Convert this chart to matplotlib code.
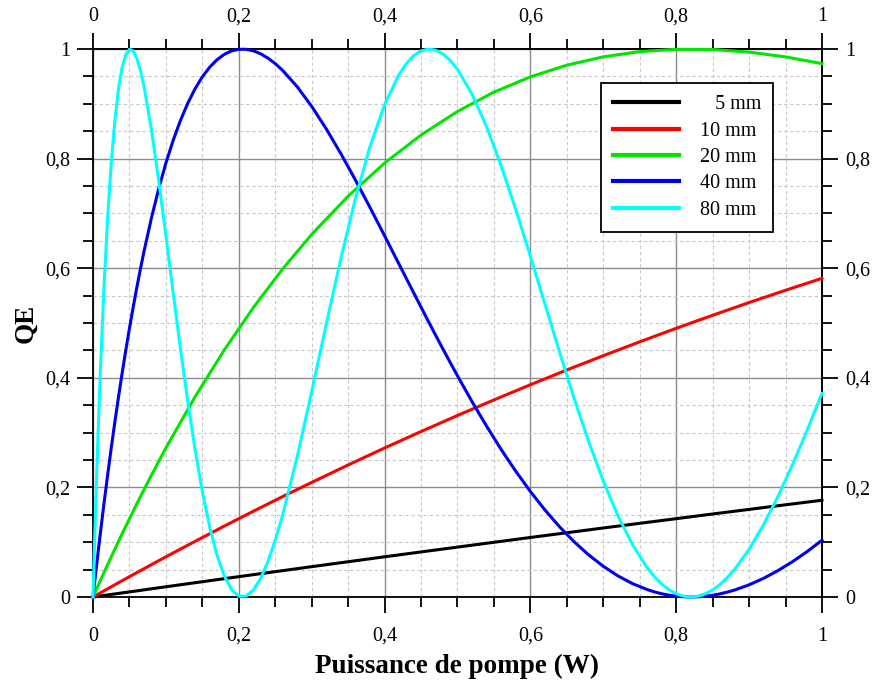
import matplotlib
matplotlib.use("Agg")
import matplotlib.pyplot as plt
from matplotlib.ticker import FixedLocator, FuncFormatter

plt.rcParams['font.family'] = ['Liberation Serif', 'DejaVu Serif']

# pump power (W) -- fine grid for the fast oscillating curves
p_fine = [0, 0.0025, 0.005, 0.0075, 0.01, 0.015, 0.02, 0.025, 0.03, 0.035,
          0.04, 0.045, 0.05, 0.055, 0.06, 0.065, 0.07, 0.08, 0.09, 0.10,
          0.11, 0.12, 0.13, 0.14, 0.15, 0.16, 0.17, 0.18, 0.19, 0.20, 0.21,
          0.22, 0.23, 0.24, 0.25, 0.26, 0.28, 0.30, 0.32, 0.34, 0.36, 0.38,
          0.40, 0.42, 0.43, 0.44, 0.45, 0.46, 0.47, 0.48, 0.49, 0.50, 0.52,
          0.54, 0.56, 0.58, 0.60, 0.62, 0.64, 0.66, 0.68, 0.70, 0.72, 0.74,
          0.76, 0.77, 0.78, 0.79, 0.80, 0.81, 0.82, 0.83, 0.84, 0.85, 0.86,
          0.87, 0.88, 0.90, 0.92, 0.94, 0.96, 0.98, 1.00]

qe_80 = [0, 0.1156, 0.2220, 0.3197, 0.4088, 0.5645, 0.6909, 0.7919, 0.8699,
         0.9275, 0.9669, 0.9902, 0.9996, 0.9968, 0.9835, 0.9612, 0.9314,
         0.8543, 0.7611, 0.6592, 0.5547, 0.4527, 0.3564, 0.2692, 0.1925,
         0.1282, 0.0768, 0.0386, 0.0136, 0.0015, 0.0015, 0.0127, 0.0342,
         0.0649, 0.1036, 0.1491, 0.2555, 0.3748, 0.4982, 0.6178, 0.7274,
         0.8223, 0.8987, 0.9541, 0.9738, 0.9880, 0.9966, 1.0000, 0.9980,
         0.9910, 0.9793, 0.9629, 0.9176, 0.8580, 0.7868, 0.7071, 0.6219,
         0.5344, 0.4470, 0.3626, 0.2836, 0.2116, 0.1485, 0.0957, 0.0539,
         0.0374, 0.0239, 0.0134, 0.0059, 0.0015, 0.0000, 0.0015, 0.0058,
         0.0129, 0.0227, 0.0352, 0.0501, 0.0870, 0.1321, 0.1845, 0.2428,
         0.3055, 0.3715]

qe_40 = [0, 0.0298, 0.0590, 0.0876, 0.1156, 0.1700, 0.2220, 0.2719, 0.3197,
         0.3653, 0.4090, 0.4506, 0.4904, 0.5282, 0.5642, 0.5985, 0.6310,
         0.6909, 0.7444, 0.7919, 0.8336, 0.8699, 0.9011, 0.9275, 0.9493,
         0.9669, 0.9804, 0.9903, 0.9966, 0.9996, 0.9996, 0.9968, 0.9914,
         0.9835, 0.9734, 0.9612, 0.9314, 0.8954, 0.8543, 0.8091, 0.7610,
         0.7108, 0.6592, 0.6070, 0.5809, 0.5549, 0.5290, 0.5032, 0.4778,
         0.4527, 0.4280, 0.4037, 0.3565, 0.3116, 0.2691, 0.2294, 0.1926,
         0.1588, 0.1282, 0.1009, 0.0768, 0.0561, 0.0386, 0.0245, 0.0137,
         0.0094, 0.0060, 0.0034, 0.0015, 0.0004, 0.0000, 0.0004, 0.0014,
         0.0032, 0.0057, 0.0089, 0.0127, 0.0222, 0.0342, 0.0485, 0.0649,
         0.0833, 0.1036]

# coarser grid for the slow curves
p_coarse = [0, 0.01, 0.02, 0.04, 0.06, 0.08, 0.10, 0.14, 0.18, 0.22, 0.26,
            0.30, 0.35, 0.40, 0.45, 0.50, 0.55, 0.60, 0.65, 0.70, 0.75, 0.80,
            0.85, 0.90, 0.95, 1.00]

qe_20 = [0, 0.0298, 0.0590, 0.1156, 0.1699, 0.2220, 0.2720, 0.3654, 0.4507,
         0.5282, 0.5985, 0.6618, 0.7316, 0.7919, 0.8431, 0.8861, 0.9214,
         0.9493, 0.9706, 0.9858, 0.9953, 0.9996, 0.9992, 0.9944, 0.9857,
         0.9734]

qe_10 = [0, 0.0075, 0.0150, 0.0298, 0.0445, 0.0590, 0.0734, 0.1016, 0.1294,
         0.1566, 0.1832, 0.2091, 0.2410, 0.2720, 0.3020, 0.3313, 0.3597,
         0.3874, 0.4144, 0.4404, 0.4657, 0.4904, 0.5142, 0.5374, 0.5598,
         0.5816]

qe_5 = [0, 0.0019, 0.0038, 0.0075, 0.0112, 0.0150, 0.0187, 0.0261, 0.0335,
        0.0408, 0.0481, 0.0554, 0.0644, 0.0734, 0.0823, 0.0911, 0.0999,
        0.1087, 0.1173, 0.1260, 0.1345, 0.1430, 0.1515, 0.1599, 0.1683,
        0.1766]

labels = ['\u2007 5 mm', '10 mm', '20 mm', '40 mm', '80 mm']
colors = ['#000000', '#ff0000', '#00e600', '#0000f0', '#00ffff']

major_ticks = [0, 0.2, 0.4, 0.6, 0.8, 1.0]
minor_ticks = [0.05, 0.1, 0.15, 0.25, 0.3, 0.35, 0.45, 0.5, 0.55,
               0.65, 0.7, 0.75, 0.85, 0.9, 0.95]

fig = plt.figure(figsize=(8.75, 6.91), dpi=100)
ax = fig.add_axes([0.1063, 0.136, 0.8331, 0.793])

series = [(p_coarse, qe_5), (p_coarse, qe_10), (p_coarse, qe_20),
          (p_fine, qe_40), (p_fine, qe_80)]
for (x, y), lab, c in zip(series, labels, colors):
    ax.plot(x, y, color=c, lw=2.2, label=lab, clip_on=False, zorder=3)

ax.set_xlim(0, 1)
ax.set_ylim(0, 1)

fmt = FuncFormatter(lambda v, p: ('%g' % round(v, 3)).replace('.', ','))


def setup_axis(axis):
    axis.set_major_locator(FixedLocator(major_ticks))
    axis.set_minor_locator(FixedLocator(minor_ticks))
    axis.set_major_formatter(fmt)
    axis.offsetText.set_visible(False)


setup_axis(ax.xaxis)
setup_axis(ax.yaxis)

ax.set_axisbelow(True)
ax.grid(which='major', color='#8c8c8c', lw=1.0)
ax.grid(which='minor', color='#c8c8c8', lw=0.8, ls=(0, (3, 2.5)))

for s in ax.spines.values():
    s.set_linewidth(1.3)

ax.tick_params(which='major', direction='out', length=11.5, width=1.3,
               labelsize=14.5, pad=5)
ax.tick_params(which='minor', direction='out', length=7.2, width=1.3)
ax.tick_params(axis='x', which='major', pad=10)

# mirrored axes on top and right
secx = ax.secondary_xaxis('top')
secy = ax.secondary_yaxis('right')
for sec, axis in ((secx, secx.xaxis), (secy, secy.yaxis)):
    setup_axis(axis)
    sec.tick_params(which='major', direction='out', length=11.5, width=1.3,
                    labelsize=14.5, pad=5)
    sec.tick_params(which='minor', direction='out', length=7.2, width=1.3)
    for s in sec.spines.values():
        s.set_linewidth(1.3)

ax.set_xlabel('Puissance de pompe (W)', fontsize=19.5, fontweight='bold',
              labelpad=6)
ax.set_ylabel('QE', fontsize=19.5, fontweight='bold', labelpad=5)

leg = ax.legend(loc='upper right', bbox_to_anchor=(0.9328, 0.938),
                borderaxespad=0, fontsize=14.5, handlelength=3.3,
                handletextpad=1.0, labelspacing=0.36, borderpad=0.6,
                fancybox=False, framealpha=1, edgecolor='black')
leg.get_frame().set_linewidth(1.3)
for line in leg.get_lines():
    line.set_linewidth(3)

fig.savefig('out.png', dpi=100)
